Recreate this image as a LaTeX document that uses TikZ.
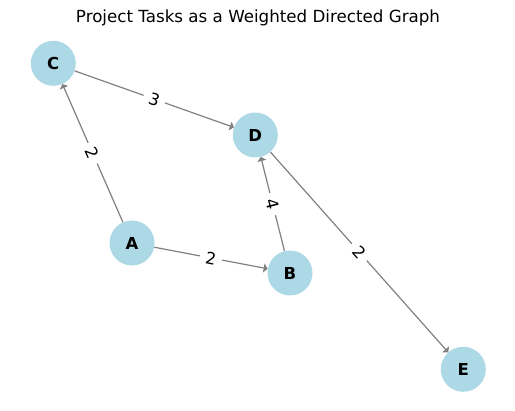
\documentclass[tikz,border=0pt]{standalone}
\usepackage{fontspec}
\setmainfont{DejaVu Sans}
\usetikzlibrary{arrows.meta}
\definecolor{nodeblue}{RGB}{173,216,230}
\definecolor{edgegray}{RGB}{128,128,128}
\tikzset{
  vertex/.style={circle, fill=nodeblue, minimum size=45pt, inner sep=0pt, font=\fontsize{16.5}{16.5}\selectfont\bfseries},
  edge/.style={draw=edgegray, line width=1.2pt, -{Triangle[width=9pt,length=4pt]}},
  weight/.style={midway, sloped, fill=white, draw=none, inner xsep=6pt, inner ysep=4pt, font=\fontsize{16.5}{16.5}\selectfont}
}
\begin{document}
\begin{tikzpicture}[x=1pt,y=-1pt]
\useasboundingbox (0,0) rectangle (515,411);
\node[font=\fontsize{16.7}{16.7}\selectfont] (title) at (258,18) {Project Tasks as a Weighted Directed Graph};
\node[vertex] (C) at (53.3,63.3) {C};
\node[vertex] (D) at (255.3,135) {D};
\node[vertex] (A) at (132,243) {A};
\node[vertex] (B) at (290,273) {B};
\node[vertex] (E) at (463.3,369.3) {E};
\draw[edge] (A) -- (C);
\draw[edge] (C) -- (D);
\draw[edge] (A) -- (B);
\draw[edge] (B) -- (D);
\draw[edge] (D) -- (E);
\path (A) -- node[weight] {2} (C);
\path (C) -- node[weight] {3} (D);
\path (A) -- node[weight] {2} (B);
\path (B) -- node[weight] {4} (D);
\path (D) -- node[weight] {2} (E);
\end{tikzpicture}
\end{document}
